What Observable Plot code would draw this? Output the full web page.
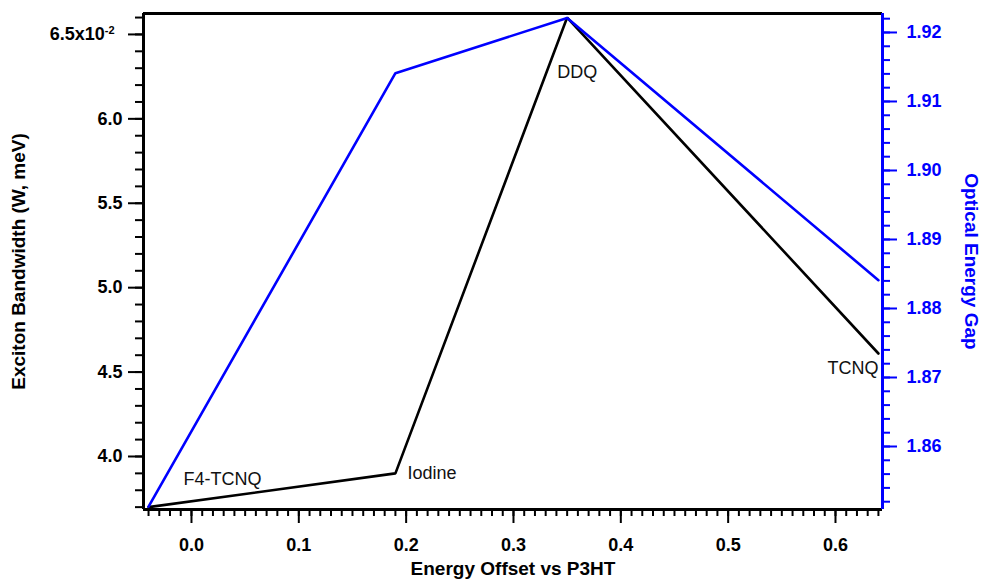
<!DOCTYPE html>
<html>
<head>
<meta charset="utf-8">
<script src="https://cdn.jsdelivr.net/npm/d3@7"></script>
<script src="https://cdn.jsdelivr.net/npm/@observablehq/plot@0.6"></script>
<style>
  html, body { margin: 0; padding: 0; background: white; }
</style>
</head>
<body>
<div id="chart"></div>
<script>
// ---- data ----
const acceptors = ["F4-TCNQ", "Iodine", "DDQ", "TCNQ"];
const energyOffset = [-0.04, 0.19, 0.35, 0.64];          // Energy Offset vs P3HT
const excitonBandwidth = [3.70, 3.90, 6.60, 4.61];       // x10^-2 (W, meV)
const opticalGap = [1.8513, 1.9141, 1.9221, 1.8841];     // Optical Energy Gap

const xTicks = [0.0, 0.1, 0.2, 0.3, 0.4, 0.5, 0.6];
const bwTicks = [4.0, 4.5, 5.0, 5.5, 6.0, 6.5];
const gapTicks = [1.86, 1.87, 1.88, 1.89, 1.90, 1.91, 1.92];

const xDomain = [-0.0447, 0.6438];
const bwDomain = [3.686, 6.624];
const gapDomain = [1.85087, 1.92275];

const data = acceptors.map((name, i) => ({
  name, x: energyOffset[i], bw: excitonBandwidth[i], gap: opticalGap[i]
}));

// map the right-axis quantity onto the left-axis scale
const toBW = d3.scaleLinear(gapDomain, bwDomain);

const xMinor = d3.range(-4, 65).map(i => i / 100);
const bwMinor = d3.range(37, 67).map(i => i / 10);
const gapMinor = d3.range(926, 962).map(i => i / 500);

const BLUE = "#0000ff";
const FS = 18;      // tick labels & annotations
const FT = 19;      // axis titles

const labelMark = (i, opts) => Plot.text([data[i]], {
  x: "x", y: "bw", text: "name", fontSize: FS, fill: "#111", lineAnchor: "middle", ...opts
});

const chart = Plot.plot({
  width: 982,
  height: 579,
  marginLeft: 143,
  marginRight: 100,
  marginTop: 13,
  marginBottom: 70,
  style: { fontFamily: "'Liberation Sans', Arial, sans-serif", background: "white", overflow: "visible" },
  x: { domain: xDomain },
  y: { domain: bwDomain },
  marks: [
    // minor ticks
    Plot.axisX({ ticks: xMinor, tickSize: 7, tickFormat: () => "", label: null, strokeWidth: 2, stroke: "black" }),
    Plot.axisY({ anchor: "left", ticks: bwMinor, tickSize: 8, tickFormat: () => "", label: null, strokeWidth: 2, stroke: "black" }),
    Plot.axisY({ anchor: "right", ticks: gapMinor.map(toBW), tickSize: 7, tickFormat: () => "", label: null, strokeWidth: 2, stroke: BLUE }),
    // major ticks + labels
    Plot.axisX({ ticks: xTicks, tickSize: 14, tickPadding: 15, tickFormat: d => d.toFixed(1), label: null,
      strokeWidth: 2, stroke: "black", fill: "black", fontSize: FS, fontWeight: "bold" }),
    Plot.axisY({ anchor: "left", ticks: bwTicks, tickSize: 15, tickPadding: 6,
      tickFormat: d => d === 6.5 ? "6.5x10" : d.toFixed(1), label: null,
      strokeWidth: 2, stroke: "black", fill: "black", fontSize: FS, fontWeight: "bold" }),
    Plot.axisY({ anchor: "right", ticks: gapTicks.map(toBW), tickSize: 14, tickPadding: 10,
      tickFormat: d => toBW.invert(d).toFixed(2), label: null,
      strokeWidth: 2, stroke: BLUE, fill: BLUE, fontSize: FS, fontWeight: "bold" }),
    // frame lines
    Plot.ruleY([bwDomain[1]], { stroke: "black", strokeWidth: 3 }),
    Plot.ruleY([bwDomain[0]], { stroke: "black", strokeWidth: 3 }),
    Plot.ruleX([xDomain[0]], { stroke: "black", strokeWidth: 3 }),
    Plot.ruleX([xDomain[1]], { stroke: BLUE, strokeWidth: 3 }),
    // series
    Plot.line(data, { x: "x", y: "bw", stroke: "black", strokeWidth: 2.6, strokeLinejoin: "miter" }),
    Plot.line(data, { x: "x", y: d => toBW(d.gap), stroke: BLUE, strokeWidth: 2.6, strokeLinejoin: "miter" }),
    // point labels
    labelMark(0, { textAnchor: "start", dx: 35, dy: -28 }),
    labelMark(1, { textAnchor: "start", dx: 12, dy: 0 }),
    labelMark(2, { textAnchor: "start", dx: -10, dy: 55 }),
    labelMark(3, { textAnchor: "end", dx: 0, dy: 15 }),
    // axis titles
    Plot.text(["Exciton Bandwidth (W, meV)"], { frameAnchor: "left", text: d => d, rotate: -90, dx: -125,
      fontSize: FT, fontWeight: "bold", fill: "black", textAnchor: "middle", lineAnchor: "middle" }),
    Plot.text(["Optical Energy Gap"], { frameAnchor: "right", text: d => d, rotate: 90, dx: 89,
      fontSize: FT, fontWeight: "bold", fill: BLUE, textAnchor: "middle", lineAnchor: "middle" }),
    Plot.text(["Energy Offset vs P3HT"], { frameAnchor: "bottom", text: d => d, dy: 59,
      fontSize: FT, fontWeight: "bold", fill: "black", textAnchor: "middle", lineAnchor: "middle" })
  ]
});

// exponent on the top left tick label
chart.querySelectorAll("text").forEach(t => {
  if (t.textContent === "6.5x10") {
    const ts = document.createElementNS("http://www.w3.org/2000/svg", "tspan");
    ts.setAttribute("dy", "-0.55em");
    ts.setAttribute("font-size", "11");
    ts.textContent = "-2";
    t.appendChild(ts);
    t.setAttribute("dx", "-8");
  }
});

document.getElementById("chart").appendChild(chart);
</script>
</body>
</html>
